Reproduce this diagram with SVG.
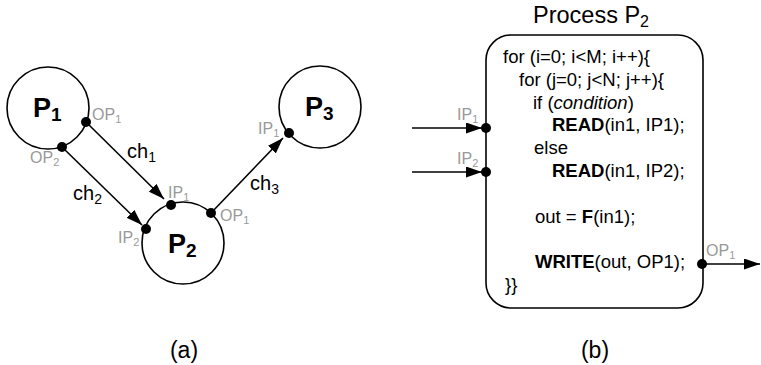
<svg xmlns="http://www.w3.org/2000/svg" width="761" height="365" viewBox="0 0 761 365">
<defs>
<marker id="ah" viewBox="0 0 16 11" refX="16" refY="5.5" markerWidth="16" markerHeight="11" markerUnits="userSpaceOnUse" orient="auto">
<path d="M0,0 L16,5.5 L0,11 Z" fill="#000"/>
</marker>
<style>
text{font-family:"Liberation Sans",Arial,sans-serif;fill:#000}
.node{fill:#fff;stroke:#000;stroke-width:1.6}
.dot{fill:#000}
.pl{font-size:27px;font-weight:bold}
.pls{font-size:19px;font-weight:bold}
.port{fill:#999;font-size:16px}
.ps{font-size:11px}
.ch{font-size:20px}
.chs{font-size:14px}
.code{font-size:18.5px}
.edge{stroke:#000;stroke-width:1.6;fill:none;marker-end:url(#ah)}
.cap{font-size:23px}
</style>
</defs>

<g id="connectors">
<line class="edge" x1="86" y1="122" x2="164" y2="199"/>
<line class="edge" x1="62" y1="147" x2="142" y2="225"/>
<line class="edge" x1="211" y1="213" x2="283" y2="138"/>
<line class="edge" x1="412" y1="128" x2="482" y2="128"/>
<line class="edge" x1="412" y1="172" x2="482" y2="172"/>
<line class="edge" x1="702" y1="264" x2="760" y2="264"/>
</g>

<g id="P1">
<circle class="node" cx="48" cy="108" r="41"/>
<text x="33" y="117" class="pl">P<tspan class="pls" dy="4">1</tspan></text>
<circle class="dot" cx="86" cy="122" r="5"/>
<circle class="dot" cx="62" cy="147" r="5"/>
<text x="92" y="120" class="port">OP<tspan class="ps" dy="3">1</tspan></text>
<text x="30" y="163" class="port">OP<tspan class="ps" dy="3">2</tspan></text>
</g>

<g id="P2">
<circle class="node" cx="183" cy="243" r="41"/>
<text x="168" y="253" class="pl">P<tspan class="pls" dy="4">2</tspan></text>
<circle class="dot" cx="171" cy="205" r="5"/>
<circle class="dot" cx="146" cy="229" r="5"/>
<circle class="dot" cx="211" cy="213" r="5"/>
<text x="168" y="198" class="port">IP<tspan class="ps" dy="3">1</tspan></text>
<text x="118" y="243" class="port">IP<tspan class="ps" dy="3">2</tspan></text>
<text x="220" y="221" class="port">OP<tspan class="ps" dy="3">1</tspan></text>
</g>

<g id="P3">
<circle class="node" cx="320" cy="107" r="41"/>
<text x="305" y="116" class="pl">P<tspan class="pls" dy="4">3</tspan></text>
<circle class="dot" cx="289" cy="133" r="5"/>
<text x="258" y="134" class="port">IP<tspan class="ps" dy="3">1</tspan></text>
</g>

<g id="labels">
<text x="127" y="158" class="ch">ch<tspan class="chs" dy="4">1</tspan></text>
<text x="73" y="200" class="ch">ch<tspan class="chs" dy="4">2</tspan></text>
<text x="250" y="190" class="ch">ch<tspan class="chs" dy="4">3</tspan></text>
<text x="184" y="358" class="cap" text-anchor="middle">(a)</text>
<text x="595" y="358" class="cap" text-anchor="middle">(b)</text>
</g>

<g id="processP2">
<text x="533" y="23" font-size="23.5">Process P<tspan font-size="16" dy="4">2</tspan></text>
<rect class="node" x="486" y="35" width="217" height="273" rx="25" ry="25" stroke-width="1.8"/>
<text x="503" y="63" class="code">for (i=0; i&lt;M; i++){</text>
<text x="519" y="86" class="code">for (j=0; j&lt;N; j++){</text>
<text x="533" y="108.5" class="code">if (<tspan font-style="italic">condition</tspan>)</text>
<text x="552" y="131" class="code"><tspan font-weight="bold">READ</tspan>(in1, IP1);</text>
<text x="534" y="154" class="code">else</text>
<text x="552" y="177" class="code"><tspan font-weight="bold">READ</tspan>(in1, IP2);</text>
<text x="535" y="222.5" class="code">out = <tspan font-weight="bold">F</tspan>(in1);</text>
<text x="535" y="268" class="code"><tspan font-weight="bold">WRITE</tspan>(out, OP1);</text>
<text x="505" y="291" class="code">}}</text>
<circle class="dot" cx="486" cy="128" r="5"/>
<circle class="dot" cx="486" cy="172" r="5"/>
<circle class="dot" cx="702" cy="264" r="5"/>
<text x="457" y="120" class="port">IP<tspan class="ps" dy="3">1</tspan></text>
<text x="457" y="164" class="port">IP<tspan class="ps" dy="3">2</tspan></text>
<text x="706" y="256" class="port">OP<tspan class="ps" dy="3">1</tspan></text>
</g>
</svg>
